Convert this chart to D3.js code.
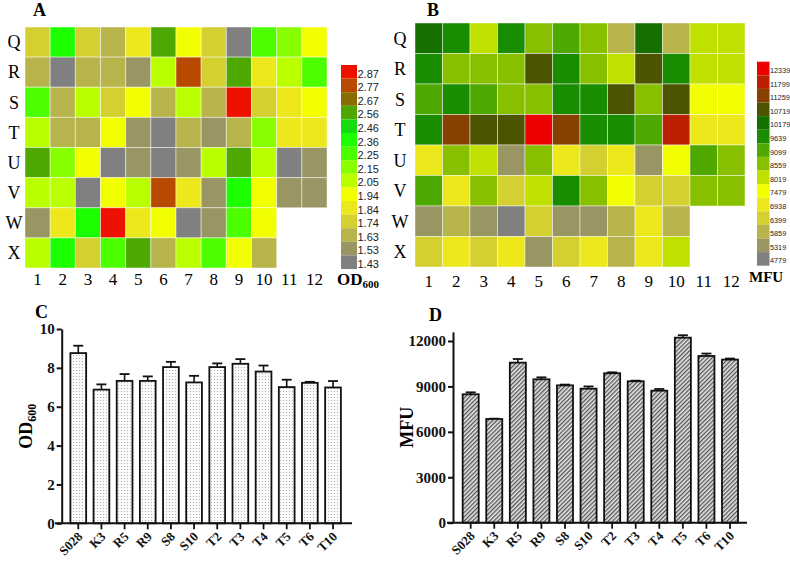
<!DOCTYPE html>
<html><head><meta charset="utf-8">
<script src="https://cdn.jsdelivr.net/npm/d3@7"></script>
<style>body{margin:0;background:#fff}svg{display:block}</style>
</head><body>
<script>
// ---------- DATA ----------
const rows = ["Q","R","S","T","U","V","W","X"];
const cols = [1,2,3,4,5,6,7,8,9,10,11,12];

const legendA = [2.87,2.77,2.67,2.56,2.46,2.36,2.25,2.15,2.05,1.94,1.84,1.74,1.63,1.53,1.43];
const colorsA = ["#ee1100","#b84a00","#8a6c00","#4ea800","#14dc10","#1cff00","#4cff00","#88ff00","#baff00","#f2ff00","#ece81c","#d4d032","#b8b44c","#9a9664","#808080"];
const heatA = [
  [1.74,2.36,1.74,1.63,1.84,2.56,1.94,1.74,1.43,2.25,2.15,1.94],
  [1.63,1.43,1.63,1.63,1.53,2.05,2.77,1.74,2.56,1.84,2.05,2.25],
  [2.25,1.63,2.05,1.74,1.94,1.63,2.05,1.63,2.87,1.74,1.84,1.94],
  [2.05,1.63,1.63,1.94,1.53,1.43,1.63,1.53,1.63,2.15,1.84,1.84],
  [2.56,2.15,1.94,1.43,1.53,1.43,1.53,2.05,2.56,2.05,1.43,1.53],
  [2.05,2.05,1.43,1.94,2.05,2.77,1.84,1.53,2.36,1.94,1.53,1.53],
  [1.53,1.84,2.36,2.87,1.84,1.94,1.43,1.53,2.25,1.94,null,null],
  [2.05,2.36,1.74,2.25,2.56,1.63,2.05,2.25,1.94,1.63,null,null]
];

const legendB = [12339,11799,11259,10719,10179,9639,9099,8559,8019,7479,6938,6399,5859,5319,4779];
const colorsB = ["#ee0000","#bb2000","#884000","#4c5400","#157000","#1a8c00","#4ea800","#88c000","#c0e000","#f2ff00","#ece81c","#d4d032","#b8b44c","#9a9664","#808080"];
const heatB = [
  [10179,9639,8019,9639,8559,9099,8559,5859,10179,5859,8019,8019],
  [9639,8559,8559,8559,10719,9639,8559,8019,10719,9639,8019,8019],
  [9099,9639,9099,8559,8559,9639,9639,10719,8559,10719,7479,7479],
  [9639,11259,10719,10719,12339,11259,9639,9639,9099,11799,6938,6938],
  [6938,8559,8019,5319,8559,6938,6399,6938,5319,7479,9099,8559],
  [9099,6938,8559,6399,8019,9639,8559,7479,6399,6399,8559,8559],
  [5319,5859,5319,4779,6399,5319,5319,5859,6938,5859,null,null],
  [6399,6938,6399,6938,5319,6399,6938,5859,6938,8019,null,null]
];

const strains = ["S028","K3","R5","R9","S8","S10","T2","T3","T4","T5","T6","T10"];
const odMean = [8.76,6.88,7.33,7.33,8.04,7.25,8.04,8.21,7.81,7.01,7.23,6.99];
const odErr  = [0.38,0.27,0.35,0.23,0.27,0.34,0.19,0.24,0.31,0.38,0.05,0.33];
const odTicks = [0,2,4,6,8,10];
const mfuMean = [8480,6850,10570,9470,9070,8850,9870,9340,8720,12220,11010,10770];
const mfuErr  = [130,20,240,130,50,150,60,40,110,160,160,70];
const mfuTicks = [0,3000,6000,9000,12000];

// ---------- DRAW ----------
const W = 790, H = 565;
const svg = d3.select("body").append("svg").attr("width", W).attr("height", H);
const serif = "'Liberation Serif','Times New Roman',serif";
const sans = "'Liberation Sans',Arial,sans-serif";

const defs = svg.append("defs");
const dots = defs.append("pattern").attr("id","dots").attr("patternUnits","userSpaceOnUse")
  .attr("width",3).attr("height",3);
dots.append("rect").attr("width",3).attr("height",3).attr("fill","#fbfbfb");
dots.append("rect").attr("x",1).attr("y",1).attr("width",1).attr("height",1).attr("fill","#b0b0b0");
const hatch = defs.append("pattern").attr("id","hatch").attr("patternUnits","userSpaceOnUse")
  .attr("width",3).attr("height",3).attr("patternTransform","rotate(45)");
hatch.append("rect").attr("width",3).attr("height",3).attr("fill","#e4e4e4");
hatch.append("rect").attr("width",1.3).attr("height",3).attr("fill","#555");

function heatmap(data, legendVals, colors, xr, yr, legX, legY, legW, legStep, rowLabelX, colLabelY, legLabelSize) {
  const color = d3.scaleOrdinal().domain(legendVals).range(colors);
  const x = d3.scaleBand().domain(cols).range(xr);
  const y = d3.scaleBand().domain(rows).range(yr);
  const g = svg.append("g");
  data.forEach((row, i) => row.forEach((v, j) => {
    if (v == null) return;
    g.append("rect").attr("x", x(cols[j])).attr("y", y(rows[i]))
      .attr("width", x.bandwidth()).attr("height", y.bandwidth())
      .attr("fill", color(v)).attr("stroke", "rgba(255,255,255,0.45)").attr("stroke-width", 1);
  }));
  rows.forEach(r => g.append("text").attr("x", rowLabelX).attr("y", y(r) + y.bandwidth()/2)
    .attr("dy","0.35em").attr("text-anchor","middle").attr("font-family", serif).attr("font-size", 18).text(r));
  cols.forEach(c => g.append("text").attr("x", x(c) + x.bandwidth()/2).attr("y", colLabelY)
    .attr("text-anchor","middle").attr("font-family", serif).attr("font-size", 17).text(c));
  const ly = d3.scaleBand().domain(legendVals).range([legY, legY + legStep*legendVals.length]);
  legendVals.forEach(v => {
    g.append("rect").attr("x", legX).attr("y", ly(v)).attr("width", legW).attr("height", ly.bandwidth())
      .attr("fill", color(v));
    g.append("text").attr("x", legX + legW + 0.5).attr("y", ly(v) + ly.bandwidth()/2 + 2)
      .attr("dy","0.35em").attr("font-family", sans).attr("font-size", legLabelSize).attr("fill","#222").text(v);
  });
  return g;
}

heatmap(heatA, legendA, colorsA, [25,327], [27,268], 341, 65, 16, 13.6, 14, 285, 11);
heatmap(heatB, legendB, colorsB, [415,745], [23,267], 757, 61.7, 12.5, 13.6, 400, 287, 7.3);

// panel labels
[["A",33,16],["B",427,16],["C",35,318],["D",429,321]].forEach(([t,x,y]) =>
  svg.append("text").attr("x",x).attr("y",y).attr("font-family",serif).attr("font-weight","bold")
    .attr("font-size",18).text(t));

// legend titles
const odT = svg.append("text").attr("x",337).attr("y",285).attr("font-family",serif)
  .attr("font-weight","bold").attr("font-size",17);
odT.append("tspan").text("OD");
odT.append("tspan").attr("font-size",11).attr("dy",3).text("600");
svg.append("text").attr("x",749).attr("y",282).attr("font-family",serif).attr("font-weight","bold")
  .attr("font-size",15).text("MFU");

function barChart(means, errs, ticks, yDomain, yRange, xRange, axisX, xLineRange, fill, labX) {
  const x = d3.scaleBand().domain(strains).range(xRange).paddingInner(0.32).paddingOuter(0.16);
  const y = d3.scaleLinear().domain(yDomain).range(yRange);
  const g = svg.append("g");
  strains.forEach((s, i) => {
    const cx = x(s) + x.bandwidth()/2;
    g.append("line").attr("x1",cx).attr("x2",cx).attr("y1",y(means[i])).attr("y2",y(means[i]+errs[i]))
      .attr("stroke","#111").attr("stroke-width",1.6);
    g.append("line").attr("x1",cx-5).attr("x2",cx+5).attr("y1",y(means[i]+errs[i])).attr("y2",y(means[i]+errs[i]))
      .attr("stroke","#111").attr("stroke-width",1.8);
    g.append("rect").attr("x", x(s)).attr("y", y(means[i])).attr("width", x.bandwidth())
      .attr("height", y(0) - y(means[i])).attr("fill", fill).attr("stroke","#111").attr("stroke-width",1.8);
  });
  const ya = g.append("g").attr("transform",`translate(${axisX},0)`)
    .call(d3.axisLeft(y).tickValues(ticks).tickSize(5).tickSizeOuter(0).tickFormat(d3.format("d")));
  ya.select(".domain").attr("stroke","#111").attr("stroke-width",2);
  ya.selectAll(".tick line").attr("stroke","#111").attr("stroke-width",2);
  ya.selectAll(".tick text").attr("font-family",serif).attr("font-weight","bold").attr("font-size",15)
    .attr("fill","#111").attr("x",-7);
  const xa = g.append("g").attr("transform",`translate(0,${y(0)})`)
    .call(d3.axisBottom(x).tickSize(6).tickSizeOuter(0));
  xa.select(".domain").remove();
  g.append("line").attr("x1",xLineRange[0]).attr("x2",xLineRange[1]).attr("y1",y(0)).attr("y2",y(0))
    .attr("stroke","#111").attr("stroke-width",2);
  xa.selectAll(".tick line").attr("stroke","#111").attr("stroke-width",1.8);
  xa.selectAll(".tick text").attr("font-family",serif).attr("font-weight","bold").attr("font-size",13)
    .attr("fill","#111").attr("text-anchor","end").attr("dy",0).attr("y",0)
    .attr("transform","translate(5,14) rotate(-45)");
  return g.append("text").attr("transform",`translate(${labX},${(yRange[0]+yRange[1])/2}) rotate(-90)`)
    .attr("text-anchor","middle").attr("font-family",serif).attr("font-weight","bold").attr("font-size",18);
}

const lc = barChart(odMean, odErr, odTicks, [0,10], [523.3,329], [66.7,344.6], 61.7, [55,352], "url(#dots)", 32);
lc.append("tspan").text("OD");
lc.append("tspan").attr("font-size",12).attr("dy",4).text("600");
const ld = barChart(mfuMean, mfuErr, mfuTicks, [0,12600], [522.7,331.9], [458.9,741.8], 453, [447,747], "url(#hatch)", 413);
ld.text("MFU");
</script>
</body></html>
